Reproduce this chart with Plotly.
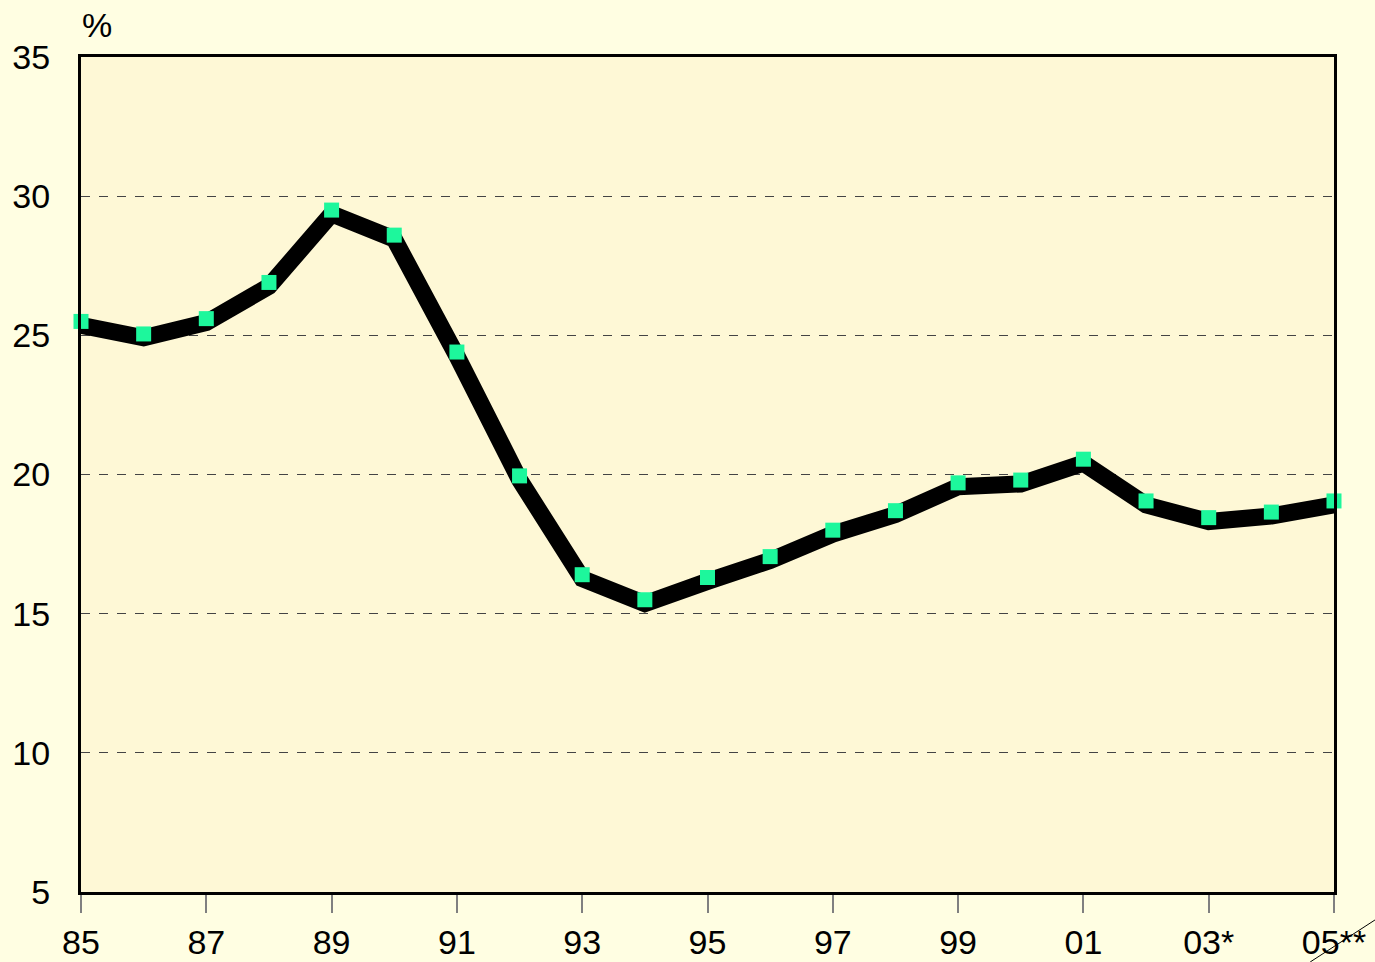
import plotly.graph_objects as go

years = list(range(1985, 2006))
values = [25.5, 25.05, 25.6, 26.9, 29.5, 28.6, 24.4, 19.95, 16.4, 15.5, 16.3,
          17.05, 18.0, 18.7, 19.7, 19.8, 20.55, 19.05, 18.45, 18.65, 19.05]
tick_years = [1985, 1987, 1989, 1991, 1993, 1995, 1997, 1999, 2001, 2003, 2005]
tick_labels = ["85", "87", "89", "91", "93", "95", "97", "99", "01", "03*", "05**"]
y_ticks = [5, 10, 15, 20, 25, 30, 35]

# the thick line sits slightly below the markers (shadow-like offset)
shadow = 0.14

fig = go.Figure()
fig.add_trace(go.Scatter(
    x=years, y=values, mode="lines", yaxis="y",
    line=dict(color="black", width=17),
    hoverinfo="skip", cliponaxis=False,
))
fig.add_trace(go.Scatter(
    x=years, y=values, mode="markers", yaxis="y2",
    marker=dict(symbol="square", size=15, color="#1DF79C", line=dict(width=0)),
    cliponaxis=False,
))

font = dict(family="Liberation Sans, Arial, sans-serif", size=34, color="black")

fig.update_layout(
    width=1375, height=962,
    margin=dict(l=81, r=41, t=57, b=70),
    paper_bgcolor="#FFFEE2",
    plot_bgcolor="#FEF8D6",
    showlegend=False,
    font=font,
    xaxis=dict(
        range=[1985, 2005], tickvals=tick_years, ticktext=tick_labels,
        showgrid=False, zeroline=False, automargin=False,
        showline=True, linecolor="black", linewidth=3, mirror=True,
        ticks="outside", ticklen=18, tickwidth=2, tickcolor="#808080",
        tickfont=font,
    ),
    yaxis=dict(
        range=[5 + shadow, 35 + shadow], automargin=False,
        showgrid=False, zeroline=False, showline=False,
        showticklabels=False, ticks="",
    ),
    yaxis2=dict(
        range=[5, 35], tickvals=y_ticks, automargin=False,
        overlaying="y", side="left",
        showgrid=True, gridcolor="#444444", gridwidth=1, griddash="dash",
        zeroline=False,
        showline=True, linecolor="black", linewidth=3, mirror=True,
        ticks="", ticklabelstandoff=21,
        tickfont=font,
    ),
    annotations=[dict(
        text="%", xref="paper", yref="paper", x=0.0, y=1.0,
        xanchor="left", yanchor="bottom", xshift=-1, yshift=11,
        showarrow=False, font=font,
    )],
    shapes=[dict(
        type="line", xref="paper", yref="paper",
        x0=0.981, y0=-0.0838, x1=1.0327, y1=-0.0335,
        line=dict(color="black", width=1),
    )],
)

fig.write_html(
    "out.html",
    config={"displayModeBar": False},
    post_script="document.body.style.margin='0';document.body.style.padding='0';"
                "document.body.style.overflow='hidden';",
)
